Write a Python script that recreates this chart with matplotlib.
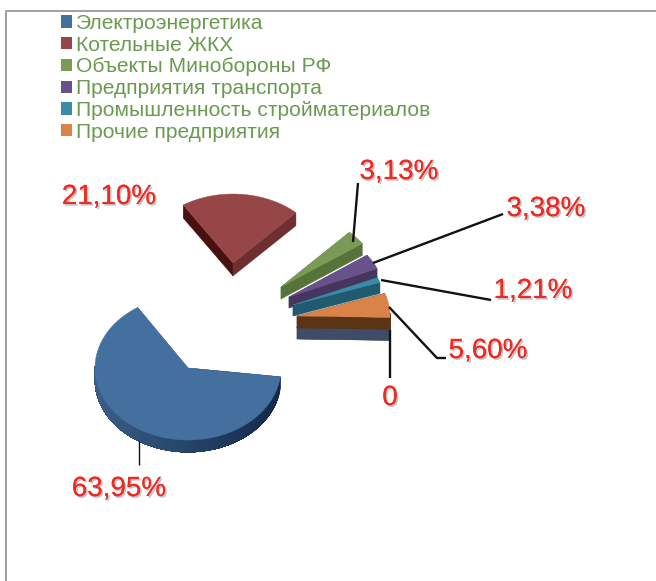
import numpy as np
import matplotlib
matplotlib.use("Agg")
import matplotlib.pyplot as plt
from matplotlib.patches import Patch, Polygon
import matplotlib.patheffects as pe

plt.rcParams["font.family"] = ["Liberation Sans", "DejaVu Sans"]

categories = ["Электроэнергетика", "Котельные ЖКХ", "Объекты Минобороны РФ",
              "Предприятия транспорта", "Промышленность стройматериалов",
              "Прочие предприятия"]
# last slice is the unnamed zero one, only its cut face shows
values = [63.95, 21.10, 3.13, 3.38, 1.21, 5.60, 0.0]
labels = ["63,95%", "21,10%", "3,13%", "3,38%", "1,21%", "5,60%", "0"]

# layout, in reference pixels
centers = [(188, 368), (233, 263), (281, 287), (289, 297), (293, 305), (297, 316), (297, 327)]
radii = [93, 92, 100, 96, 92, 93, 92]
squash = [0.775, 0.75, 0.75, 0.75, 0.75, 0.75, 0.75]
depths = [12, 13, 12, 11, 11, 12, 12]
top_colors = ["#44709f", "#964647", "#7a9a55", "#69528c", "#3b8ba6", "#d9834a", "#3e4c66"]
side_colors = ["#3a5f8a", "#6f2f30", "#56733a", "#46365f", "#1f5a6e", "#5a3414", "#3e4c66"]
dark_colors = ["#14294a", "#4a1010", "#56733a", "#46365f", "#1f5a6e", "#5a3414", "#3e4c66"]
label_pos = [(119, 489), (109, 197), (399, 172), (546, 209), (533, 291), (488, 351), (390, 398)]
leaders = [[(139, 441), (139, 465)],
           [(353, 242), (358, 183)],
           [(373, 263), (503, 214)],
           [(381, 280), (491, 300)],
           [(389, 307), (437, 358), (446, 358)],
           [(390, 330), (390, 378)]]
leader_widths = [1.0, 1.7, 1.7, 1.7, 1.7, 1.7]
start_angle = -7
draw_order = [0, 1, 2, 3, 4, 6, 5]


def mix(c1, c2, t):
    a = np.array(matplotlib.colors.to_rgb(c1))
    b = np.array(matplotlib.colors.to_rgb(c2))
    return a + (b - a) * t


def draw_slice(ax, i, a0, a1):
    # a0 > a1, slices run clockwise
    cx, cy = centers[i]
    r, d = radii[i], depths[i]
    th = np.radians(np.linspace(a0, a1, 120))
    xs = cx + r * np.cos(th)
    ys = cy - r * squash[i] * np.sin(th)

    def face(px, py, color):
        pts = np.r_[np.column_stack([px, py]), np.column_stack([px, py + d])[::-1]]
        ax.add_patch(Polygon(pts, fc=color, ec=color, lw=0.3))

    face(np.array([cx, xs[0]]), np.array([cy, ys[0]]), dark_colors[i])
    face(np.array([cx, xs[-1]]), np.array([cy, ys[-1]]), side_colors[i])
    # outer wall, darkening towards the right on the big slice
    # each piece runs on to the end of the arc so no seams show
    low = np.where(np.sin(th) < 0.05)[0]
    if len(low) > 1:
        for k in low[:-1]:
            span = np.clip((xs[k] - xs.min()) / max(np.ptp(xs), 1), 0, 1)
            face(xs[k:low[-1] + 1], ys[k:low[-1] + 1], mix(side_colors[i], dark_colors[i], span))
    ax.add_patch(Polygon(np.column_stack([np.r_[cx, xs], np.r_[cy, ys]]),
                         fc=top_colors[i], ec=top_colors[i], lw=0.3))


fig = plt.figure(figsize=(6.56, 5.81), dpi=100, facecolor="w")
ax = fig.add_axes([0, 0, 1, 1])
ax.set_xlim(0, 656)
ax.set_ylim(581, 0)
ax.axis("off")

ax.plot([6, 6, 656], [581, 11, 11], color="#9a9a9a", lw=1.3)

edges = start_angle - np.r_[0, np.cumsum(values)] * 3.6
for i in draw_order:
    draw_slice(ax, i, edges[i], edges[i + 1])

for line, w in zip(leaders, leader_widths):
    ax.plot(*zip(*line), color="#111111", lw=w, solid_capstyle="butt")

shadow = [pe.withSimplePatchShadow(offset=(1.2, -1.2), shadow_rgbFace="#999999", alpha=0.6),
          pe.Normal()]
for text, (x, y) in zip(labels, label_pos):
    ax.text(x, y, text, color="#ee2a24", fontsize=20, ha="center", va="center",
            path_effects=shadow)

handles = [Patch(fc=c, ec="none") for c in top_colors[:len(categories)]]
ax.legend(handles, categories, loc="upper left", bbox_to_anchor=(61 / 656, 1 - 14 / 581),
          bbox_transform=fig.transFigure, frameon=False, fontsize=15.1, labelcolor="#6a9a50",
          handlelength=0.53, handleheight=0.53, handletextpad=0.19, labelspacing=0.13,
          borderpad=0, borderaxespad=0)

fig.savefig("out.png", dpi=100, facecolor="w")
